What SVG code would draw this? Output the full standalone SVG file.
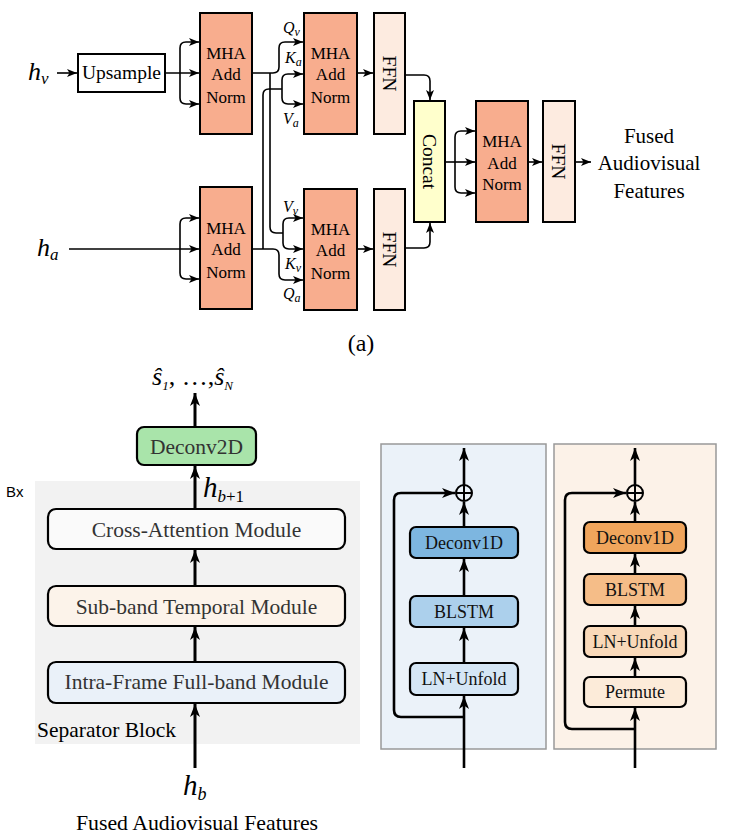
<svg xmlns="http://www.w3.org/2000/svg" width="744" height="837" viewBox="0 0 744 837" font-family="'Liberation Serif', 'Times New Roman', serif">
<defs>
<marker id="as" markerUnits="userSpaceOnUse" markerWidth="10" markerHeight="8" viewBox="0 0 10 8" refX="10" refY="4" orient="auto"><path d="M0,0 L10,4 L0,8 L2.5,4 z" fill="#000"/></marker>
<marker id="al" markerUnits="userSpaceOnUse" markerWidth="13" markerHeight="10" viewBox="0 0 13 10" refX="13" refY="5" orient="auto"><path d="M0,0 L13,5 L0,10 L3.5,5 z" fill="#000"/></marker>
</defs>
<style>
text{font-family:'Liberation Serif','Times New Roman',serif;fill:#000}
text.sans{font-family:'Liberation Sans',Arial,sans-serif}
.mha{fill:#f8ad8e;stroke:#000;stroke-width:2}
.ffn{fill:#fdebe0;stroke:#000;stroke-width:2}
.t17{font-size:17px;text-anchor:middle}
.t19{font-size:19.5px;text-anchor:middle}
.it{font-style:italic}
.c1{fill:none;stroke:#000;stroke-width:1.6}
.c2{fill:none;stroke:#000;stroke-width:3}
.c3{fill:none;stroke:#000;stroke-width:2.6}
.mod{stroke:#000;stroke-width:2.2}
.mt{font-size:21.5px;text-anchor:middle;fill:#333}
.st{font-size:18px;text-anchor:middle;fill:#111}
</style>

<g id="labels-top">
<text class="it" x="28" y="80" font-size="26">h<tspan font-size="17" dy="4">v</tspan></text>
<text class="it" x="37" y="256" font-size="26">h<tspan font-size="17" dy="4">a</tspan></text>
<text class="it" x="283" y="33" font-size="16">Q<tspan font-size="12" dy="3">v</tspan></text>
<text class="it" x="285" y="63" font-size="16">K<tspan font-size="12" dy="3">a</tspan></text>
<text class="it" x="283" y="124" font-size="16">V<tspan font-size="12" dy="3">a</tspan></text>
<text class="it" x="283" y="212" font-size="16">V<tspan font-size="12" dy="3">v</tspan></text>
<text class="it" x="285" y="269" font-size="16">K<tspan font-size="12" dy="3">v</tspan></text>
<text class="it" x="283" y="299" font-size="16">Q<tspan font-size="12" dy="3">a</tspan></text>
<text x="361" y="351" font-size="24" text-anchor="middle">(a)</text>
</g>

<g id="upsample"><rect x="78" y="54" width="87" height="38" fill="#fff" stroke="#000" stroke-width="2"/><text class="t19" x="121.5" y="79">Upsample</text></g>
<g id="mha1"><rect class="mha" x="200" y="13" width="52" height="121"/><text class="t17" x="226" y="59">MHA</text><text class="t17" x="226" y="80">Add</text><text class="t17" x="226" y="103">Norm</text></g>
<g id="mha2"><rect class="mha" x="304" y="13" width="53" height="121"/><text class="t17" x="330.5" y="59">MHA</text><text class="t17" x="330.5" y="80">Add</text><text class="t17" x="330.5" y="103">Norm</text></g>
<g id="mha3"><rect class="mha" x="200" y="187" width="52" height="122"/><text class="t17" x="226" y="234">MHA</text><text class="t17" x="226" y="255">Add</text><text class="t17" x="226" y="278">Norm</text></g>
<g id="mha4"><rect class="mha" x="304" y="189" width="53" height="121"/><text class="t17" x="330.5" y="235">MHA</text><text class="t17" x="330.5" y="256">Add</text><text class="t17" x="330.5" y="279">Norm</text></g>
<g id="ffn1"><rect class="ffn" x="374" y="13" width="31" height="121"/><text class="t19" transform="translate(389.5,73.5) rotate(90)" y="7">FFN</text></g>
<g id="ffn2"><rect class="ffn" x="374" y="189" width="31" height="121"/><text class="t19" transform="translate(389.5,249.5) rotate(90)" y="7">FFN</text></g>
<g id="concat"><rect x="414" y="101" width="31" height="121" fill="#ffffcc" stroke="#000" stroke-width="2"/><text class="t19" font-size="20" transform="translate(429.5,161.5) rotate(90)" y="7">Concat</text></g>
<g id="mha5"><rect class="mha" x="476" y="101" width="52" height="121"/><text class="t17" x="502" y="147">MHA</text><text class="t17" x="502" y="169">Add</text><text class="t17" x="502" y="190">Norm</text></g>
<g id="ffn3"><rect class="ffn" x="543" y="101" width="32" height="121"/><text class="t19" transform="translate(559,161.5) rotate(90)" y="7">FFN</text></g>
<g id="fused-top"><text font-size="21" text-anchor="middle" x="649" y="143">Fused</text><text font-size="21" text-anchor="middle" x="649" y="170">Audiovisual</text><text font-size="21" text-anchor="middle" x="649" y="198">Features</text></g>

<g id="connectors-top">
<path class="c1" d="M57,73 L77,73" marker-end="url(#as)"/>
<path class="c1" d="M165,73 L199,73" marker-end="url(#as)"/>
<path class="c1" d="M180,73 L180,48 Q180,42 186,42 L199,42" marker-end="url(#as)"/>
<path class="c1" d="M180,73 L180,98 Q180,104 186,104 L199,104" marker-end="url(#as)"/>
<path class="c1" d="M69,249 L199,249" marker-end="url(#as)"/>
<path class="c1" d="M180,249 L180,224 Q180,218 186,218 L199,218" marker-end="url(#as)"/>
<path class="c1" d="M180,249 L180,273 Q180,279 186,279 L199,279" marker-end="url(#as)"/>
<path class="c1" d="M252,73 L273,73 Q279,73 279,67 L279,48 Q279,42 285,42 L303,42" marker-end="url(#as)"/>
<path class="c1" d="M270,73 L270,227 Q270,233 276,233 L283,233"/>
<path class="c1" d="M283,233 L283,224 Q283,218 289,218 L303,218" marker-end="url(#as)"/>
<path class="c1" d="M283,233 L283,243 Q283,249 289,249 L303,249" marker-end="url(#as)"/>
<path class="c1" d="M252,249 L273,249 Q279,249 279,255 L279,274 Q279,280 285,280 L303,280" marker-end="url(#as)"/>
<path class="c1" d="M263,249 L263,95 Q263,89 269,89 L282,89"/>
<path class="c1" d="M282,89 L282,80 Q282,74 288,74 L303,74" marker-end="url(#as)"/>
<path class="c1" d="M282,89 L282,98 Q282,104 288,104 L303,104" marker-end="url(#as)"/>
<path class="c1" d="M357,73 L373,73" marker-end="url(#as)"/>
<path class="c1" d="M357,249 L373,249" marker-end="url(#as)"/>
<path class="c1" d="M405,75 L424,75 Q430,75 430,81 L430,100" marker-end="url(#as)"/>
<path class="c1" d="M405,248 L424,248 Q430,248 430,242 L430,223" marker-end="url(#as)"/>
<path class="c1" d="M445,162 L475,162" marker-end="url(#as)"/>
<path class="c1" d="M455,162 L455,137 Q455,131 461,131 L475,131" marker-end="url(#as)"/>
<path class="c1" d="M455,162 L455,187 Q455,193 461,193 L475,193" marker-end="url(#as)"/>
<path class="c1" d="M528,162 L542,162" marker-end="url(#as)"/>
<path class="c1" d="M575,162 L591,162" marker-end="url(#as)"/>
</g>

<g id="separator-bg"><rect x="35" y="481" width="325" height="263" fill="#f2f2f2"/>
<text class="sans" x="6" y="497" font-size="15">Bx</text>
<text x="37" y="737" font-size="21.5">Separator Block</text></g>

<g id="out-label"><text class="it" x="152" y="385" font-size="26">ŝ<tspan font-size="13" dy="5">1</tspan><tspan dy="-5" font-style="normal">, …,</tspan>ŝ<tspan font-size="13" dy="5">N</tspan></text></g>
<g id="deconv2d"><rect x="137" y="427" width="119" height="38" rx="7" fill="#a9e4aa" class="mod"/><text class="mt" x="196.5" y="453.5">Deconv2D</text></g>
<g id="hb1"><text class="it" x="203" y="497" font-size="29">h<tspan font-size="17" dy="5">b</tspan><tspan font-size="17" font-style="normal">+1</tspan></text></g>
<g id="cross"><rect x="48" y="509" width="297" height="40" rx="8" fill="#fafafa" class="mod"/><text class="mt" x="196.5" y="537">Cross-Attention Module</text></g>
<g id="subband"><rect x="48" y="586" width="297" height="40" rx="8" fill="#fcf3ea" class="mod"/><text class="mt" x="196.5" y="614">Sub-band Temporal Module</text></g>
<g id="intra"><rect x="48" y="662" width="297" height="41" rx="8" fill="#eaf1f9" class="mod"/><text class="mt" x="196.5" y="689">Intra-Frame Full-band Module</text></g>
<g id="hb"><text class="it" x="183" y="795" font-size="29">h<tspan font-size="18" dy="5">b</tspan></text>
<text x="197" y="830" font-size="21.8" text-anchor="middle">Fused Audiovisual Features</text></g>

<g id="panel-blue">
<rect x="381" y="444" width="165" height="305" fill="#ebf2f9" stroke="#999" stroke-width="1.5"/>
<g id="b-ln"><rect x="410" y="663" width="108" height="32" rx="6" fill="#d5e6f5" class="mod"/><text class="st" x="464" y="685">LN+Unfold</text></g>
<g id="b-blstm"><rect x="410" y="596" width="108" height="31" rx="6" fill="#acd0ec" class="mod"/><text class="st" x="464" y="618">BLSTM</text></g>
<g id="b-deconv"><rect x="410" y="527" width="108" height="31" rx="6" fill="#7db6e0" class="mod"/><text class="st" x="464" y="549">Deconv1D</text></g>
<g id="b-plus"><circle cx="464" cy="493" r="8" fill="none" stroke="#000" stroke-width="2"/><path d="M456,493 H472 M464,485 V501" stroke="#000" stroke-width="2"/></g>
</g>
<g id="panel-orange">
<rect x="554" y="444" width="162" height="305" fill="#fcf2e8" stroke="#999" stroke-width="1.5"/>
<g id="o-perm"><rect x="584" y="677" width="102" height="30" rx="6" fill="#fcebd9" class="mod"/><text class="st" x="635" y="698">Permute</text></g>
<g id="o-ln"><rect x="584" y="626" width="102" height="31" rx="6" fill="#f9d9b9" class="mod"/><text class="st" x="635" y="648">LN+Unfold</text></g>
<g id="o-blstm"><rect x="584" y="574" width="102" height="31" rx="6" fill="#f5bd88" class="mod"/><text class="st" x="635" y="596">BLSTM</text></g>
<g id="o-deconv"><rect x="584" y="522" width="102" height="31" rx="6" fill="#f0a55c" class="mod"/><text class="st" x="635" y="544">Deconv1D</text></g>
<g id="o-plus"><circle cx="635" cy="493" r="8" fill="none" stroke="#000" stroke-width="2"/><path d="M627,493 H643 M635,485 V501" stroke="#000" stroke-width="2"/></g>
</g>

<g id="connectors-bottom">
<path class="c2" d="M195,427 L195,393" marker-end="url(#al)"/>
<path class="c2" d="M195,509 L195,466" marker-end="url(#al)"/>
<path class="c2" d="M195,586 L195,550" marker-end="url(#al)"/>
<path class="c2" d="M195,662 L195,627" marker-end="url(#al)"/>
<path class="c2" d="M195,768 L195,704" marker-end="url(#al)"/>
<path class="c3" d="M464,768 L464,696" marker-end="url(#al)"/>
<path class="c3" d="M464,663 L464,628" marker-end="url(#al)"/>
<path class="c3" d="M464,596 L464,559" marker-end="url(#al)"/>
<path class="c3" d="M464,527 L464,502" marker-end="url(#al)"/>
<path class="c3" d="M464,485 L464,448" marker-end="url(#al)"/>
<path class="c3" d="M464,717 L401,717 Q394,717 394,710 L394,500 Q394,493 401,493 L455,493" marker-end="url(#al)"/>
<path class="c3" d="M635,768 L635,708" marker-end="url(#al)"/>
<path class="c3" d="M635,677 L635,658" marker-end="url(#al)"/>
<path class="c3" d="M635,626 L635,606" marker-end="url(#al)"/>
<path class="c3" d="M635,574 L635,554" marker-end="url(#al)"/>
<path class="c3" d="M635,522 L635,502" marker-end="url(#al)"/>
<path class="c3" d="M635,485 L635,448" marker-end="url(#al)"/>
<path class="c3" d="M635,729 L572,729 Q565,729 565,722 L565,500 Q565,493 572,493 L626,493" marker-end="url(#al)"/>
</g>
</svg>
